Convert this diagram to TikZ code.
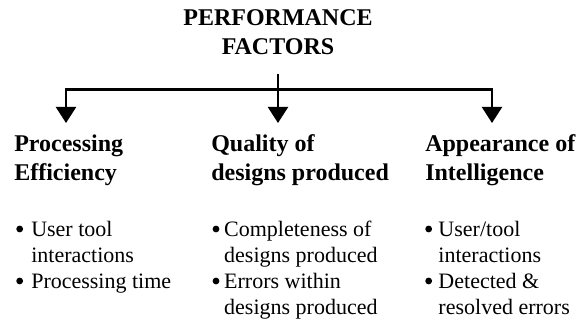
\documentclass[tikz,border=0pt]{standalone}
\usepackage{fontspec}
\setmainfont{Liberation Serif}
\usepackage{tikz}
\usetikzlibrary{arrows.meta}
\tikzset{
  every picture/.style={line join=miter, >={Triangle[width=0.5cm,length=0.4cm]}},
  link/.style={line width=1.6pt},
  head/.style={inner sep=0pt, anchor=base west, align=left,
    font=\bfseries\fontsize{17.07}{20.63}\selectfont},
  points/.style={inner sep=0pt, anchor=base west,
    font=\fontsize{15.65}{18.49}\selectfont},
}
% round bullet in a box of the given width
\newcommand{\dotmark}[1]{\tikz[baseline=0pt]{\useasboundingbox (0,0) rectangle (#1,0.1);
  \fill (0.085,0.2) circle[radius=0.085];}}
% bullet list: bullet box width, then the rows
\newcommand{\bulletrows}[2]{\def\bul{\dotmark{#1}}%
  \begin{tabular}[t]{@{}l@{}l@{}}#2\end{tabular}}

\begin{document}
\begin{tikzpicture}
\useasboundingbox (0,0) rectangle (14.600,8.000);
\node[head,anchor=base,align=center] (title) at (6.950,6.625) {PERFORMANCE\\FACTORS};
% headings (placed by the baseline of their last line)
\node[head] (proc) at (0.350,3.475) {Processing\\Efficiency};
\node[head] (qual) at (5.275,3.475) {Quality of\\designs produced};
\node[head] (appr) at (10.625,3.475) {Appearance of\\Intelligence};
% bullet lists
\node[points] (procList) at (0.400,2.075) {\bulletrows{0.375}{%
  \bul & User tool\\ & interactions\\ \bul & Processing time}};
\node[points] (qualList) at (5.308,2.075) {\bulletrows{0.29}{%
  \bul & Completeness of\\ & designs produced\\ \bul & Errors within\\ & designs produced}};
\node[points] (apprList) at (10.625,2.075) {\bulletrows{0.33}{%
  \bul & User/tool\\ & interactions\\ \bul & Detected \&\\ & resolved errors}};
% tree of arrows
\coordinate (hub) at (6.950,5.763);
\coordinate (procIn) at (1.650,4.925);
\coordinate (qualIn) at (6.950,4.925);
\coordinate (apprIn) at (12.300,4.925);
\draw[link,shorten <=0.45cm] (title.south) -- (hub);
\draw[link,->] (hub) -| (procIn);
\draw[link,->] (hub) -- (qualIn);
\draw[link,->] (hub) -| (apprIn);
\end{tikzpicture}
\end{document}
